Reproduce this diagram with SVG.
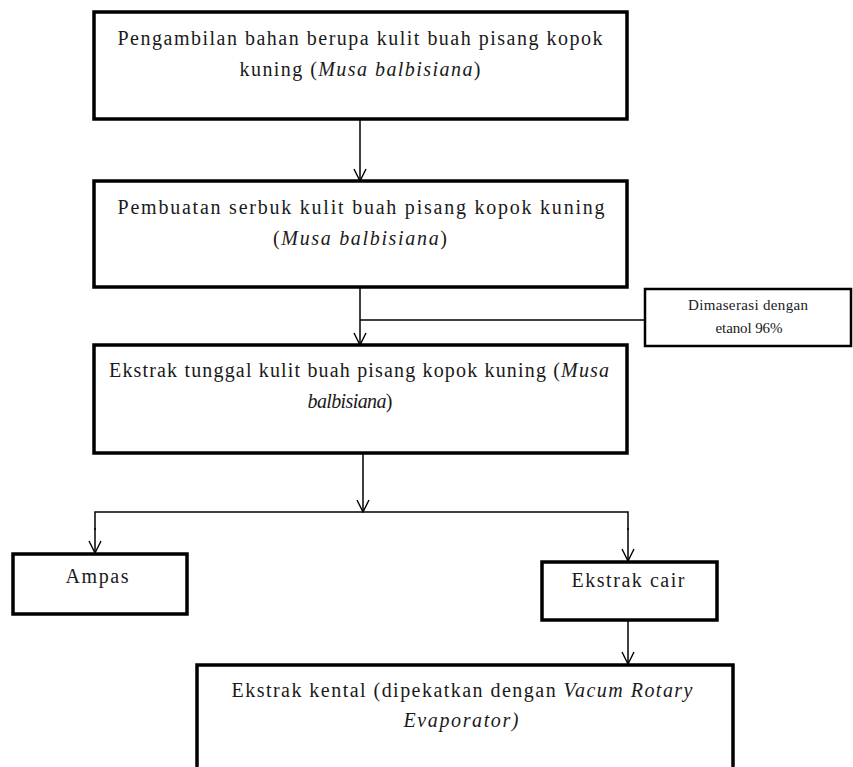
<svg xmlns="http://www.w3.org/2000/svg" width="853" height="767" viewBox="0 0 853 767">
  <style>
    .box { fill: #ffffff; stroke: #000000; stroke-width: 3.5; }
    .side { fill: #ffffff; stroke: #000000; stroke-width: 2.5; }
    .t { font-family: "Liberation Serif", "Times New Roman", serif; font-size: 20px; fill: #1a1a1a; text-anchor: middle; }
    .s { font-size: 15px; }
    .i { font-style: italic; }
    .ln { fill: none; stroke: #000000; stroke-width: 1.5; }
  </style>
  <defs>
    <!-- open V arrowhead, tip at the end of the line -->
    <marker id="arr" viewBox="0 0 14 14" refX="13" refY="7" markerWidth="14" markerHeight="14" markerUnits="userSpaceOnUse" orient="auto">
      <path d="M1,1 L13,7 L1,13" fill="none" stroke="#000000" stroke-width="1.4"/>
    </marker>
  </defs>

  <rect width="853" height="767" fill="#ffffff"/>

  <!-- connectors -->
  <g id="connectors">
    <line class="ln" x1="360" y1="120" x2="360" y2="181" marker-end="url(#arr)"/>
    <line class="ln" x1="360" y1="288" x2="360" y2="345" marker-end="url(#arr)"/>
    <line class="ln" x1="360" y1="320" x2="645" y2="320"/>
    <line class="ln" x1="363" y1="453" x2="363" y2="512" marker-end="url(#arr)"/>
    <polyline class="ln" points="95,530 95,512 628,512 628,530"/>
    <line class="ln" x1="95" y1="528" x2="95" y2="553" marker-end="url(#arr)"/>
    <line class="ln" x1="628" y1="528" x2="628" y2="561" marker-end="url(#arr)"/>
    <line class="ln" x1="628" y1="621" x2="628" y2="664" marker-end="url(#arr)"/>
  </g>

  <g id="step1">
    <rect class="box" x="94" y="12" width="533" height="107"/>
    <text class="t" x="360" y="45" textLength="485" lengthAdjust="spacing">Pengambilan bahan berupa kulit buah pisang kopok</text>
    <text class="t" x="360" y="76" textLength="241" lengthAdjust="spacing">kuning (<tspan class="i">Musa balbisiana</tspan>)</text>
  </g>

  <g id="step2">
    <rect class="box" x="94" y="181" width="533" height="106"/>
    <text class="t" x="361" y="214" textLength="487" lengthAdjust="spacing">Pembuatan serbuk kulit buah pisang kopok kuning</text>
    <text class="t" x="360" y="245" textLength="174" lengthAdjust="spacing">(<tspan class="i">Musa balbisiana</tspan>)</text>
  </g>

  <g id="maserasi">
    <rect class="side" x="645" y="289" width="206" height="57"/>
    <text class="t s" x="748" y="310" textLength="120" lengthAdjust="spacing">Dimaserasi dengan</text>
    <text class="t s" x="749" y="333" textLength="67" lengthAdjust="spacing">etanol 96%</text>
  </g>

  <g id="step3">
    <rect class="box" x="94" y="345" width="533" height="108"/>
    <text class="t" x="359" y="377" textLength="500" lengthAdjust="spacing">Ekstrak tunggal kulit buah pisang kopok kuning (<tspan class="i">Musa</tspan></text>
    <text class="t" x="350" y="408" textLength="85" lengthAdjust="spacing"><tspan class="i">balbisiana</tspan>)</text>
  </g>

  <g id="ampas">
    <rect class="box" x="13" y="554" width="174" height="60"/>
    <text class="t" x="97" y="583" textLength="63" lengthAdjust="spacing">Ampas</text>
  </g>

  <g id="ekstrak-cair">
    <rect class="box" x="542" y="562" width="175" height="58"/>
    <text class="t" x="628" y="587" textLength="113" lengthAdjust="spacing">Ekstrak cair</text>
  </g>

  <g id="ekstrak-kental">
    <rect class="box" x="197" y="665" width="536" height="120"/>
    <text class="t" x="462" y="697" textLength="461" lengthAdjust="spacing">Ekstrak kental (dipekatkan dengan <tspan class="i">Vacum Rotary</tspan></text>
    <text class="t" x="461" y="727" textLength="115" lengthAdjust="spacing"><tspan class="i">Evaporator)</tspan></text>
  </g>
</svg>
